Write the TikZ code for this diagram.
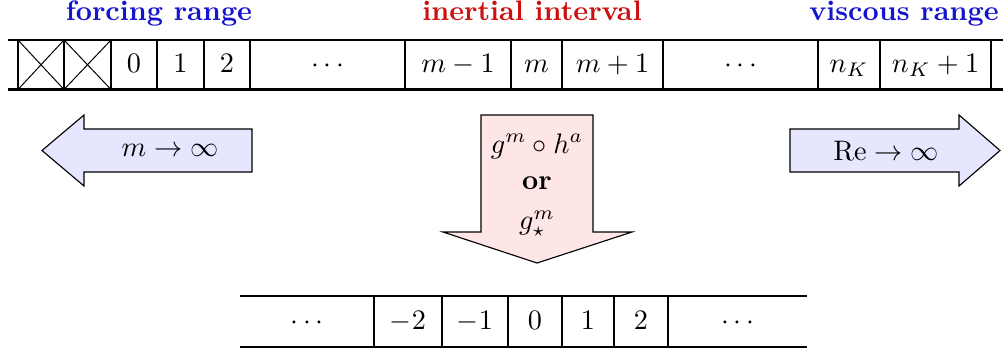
\documentclass[tikz,border=0pt]{standalone}
\usepackage{xcolor}
\usepackage{tikz}
\usetikzlibrary{positioning}
\definecolor{rangeblue}{HTML}{1414CC}
\definecolor{inertred}{HTML}{CC1010}
\definecolor{limitfill}{HTML}{E6E6FF}
\definecolor{mapfill}{HTML}{FFE6E6}
\tikzset{
  rail/.style     = {draw=black, line width=0.9pt},
  wall/.style     = {draw=black, line width=0.45pt},
  cross/.style    = {draw=black, line width=0.35pt},
  cell/.style     = {inner sep=0pt, outer sep=0pt, text height=1.5ex, text depth=0.25ex},
  rangelab/.style = {font=\bfseries, anchor=base, inner sep=0pt, outer sep=0pt},
  fatarrow/.style = {draw=black, line width=0.4pt, line join=miter},
  arrowtext/.style= {inner sep=0pt, outer sep=0pt},
}

\begin{document}
\begin{tikzpicture}[x=0.3546pt,y=-0.3546pt]
\path[use as bounding box] (0,0) rectangle (1003,354);

% ---------- which part of the cascade ------------------------------------
\node[rangelab, text=rangeblue] (forcing)  at (159,20) {forcing range};
\node[rangelab, text=inertred]  (inertial) at (532,20) {inertial interval};
\node[rangelab, text=rangeblue] (viscous)  at (904,20) {viscous range};

% ---------- the shell strip ----------------------------------------------
\draw[rail] (8,40)   -- (1003,40);
\draw[rail] (8,89.5) -- (1003,89.5);
\foreach \x in {18,64,111,157,204,250,405,511,562,663,818,880,991}
  \draw[wall] (\x,40) -- (\x,89.5);

% shells that are cut away
\foreach \a/\b in {18/64,64/111}
  \draw[cross] (\a,40) -- (\b,89.5) (\a,89.5) -- (\b,40);

\foreach \x/\nm/\lab in {134/top0/$0$, 180.5/top1/$1$, 227/top2/$2$,
    327.5/topdots/$\cdots$, 458/topmm/$m-1$, 536.5/topm/$m$,
    612.5/topmp/$m+1$, 740.5/topdotsb/$\cdots$, 849/topnk/$n_K$,
    935.5/topnkp/$n_K+1$}
  \node[cell] (\nm) at (\x,64.5) {\lab};

% ---------- the limits ----------------------------------------------------
\draw[fatarrow, fill=limitfill]
  (252,129) -- (84,129) -- (84,115) -- (42,150.5) -- (84,186) -- (84,172) -- (252,172) -- cycle;
\node[arrowtext] (mlimit) at (170,150.5) {$m\to\infty$};

\draw[fatarrow, fill=limitfill]
  (790,129) -- (959,129) -- (959,115) -- (1000,150.5) -- (959,186) -- (959,172) -- (790,172) -- cycle;
\node[arrowtext] (relimit) at (886,150.5) {$\mathrm{Re}\to\infty$};

% the renormalising map
\draw[fatarrow, fill=mapfill]
  (481,115) -- (593,115) -- (593,232) -- (632,232) -- (537,263) -- (443,232) -- (481,232) -- cycle;
\node[arrowtext] (mapa)  at (537,146) {$g^m\circ h^a$};
\node[arrowtext, font=\bfseries] (mapor) at (537,183) {or};
\node[arrowtext] (mapb)  at (537,224) {$g^m_\star$};

% ---------- the shifted strip ---------------------------------------------
\draw[rail] (240,296) -- (807,296);
\draw[rail] (240,347) -- (807,347);
\foreach \x in {374,442,508,562,614,668}
  \draw[wall] (\x,296) -- (\x,347);

\foreach \x/\nm/\lab in {307/botdots/$\cdots$, 408/botmtwo/$-2$, 475/botmone/$-1$,
    535/bot0/$0$, 588/bot1/$1$, 641/bot2/$2$, 737.5/botdotsb/$\cdots$}
  \node[cell] (\nm) at (\x,321.5) {\lab};

\end{tikzpicture}
\end{document}
